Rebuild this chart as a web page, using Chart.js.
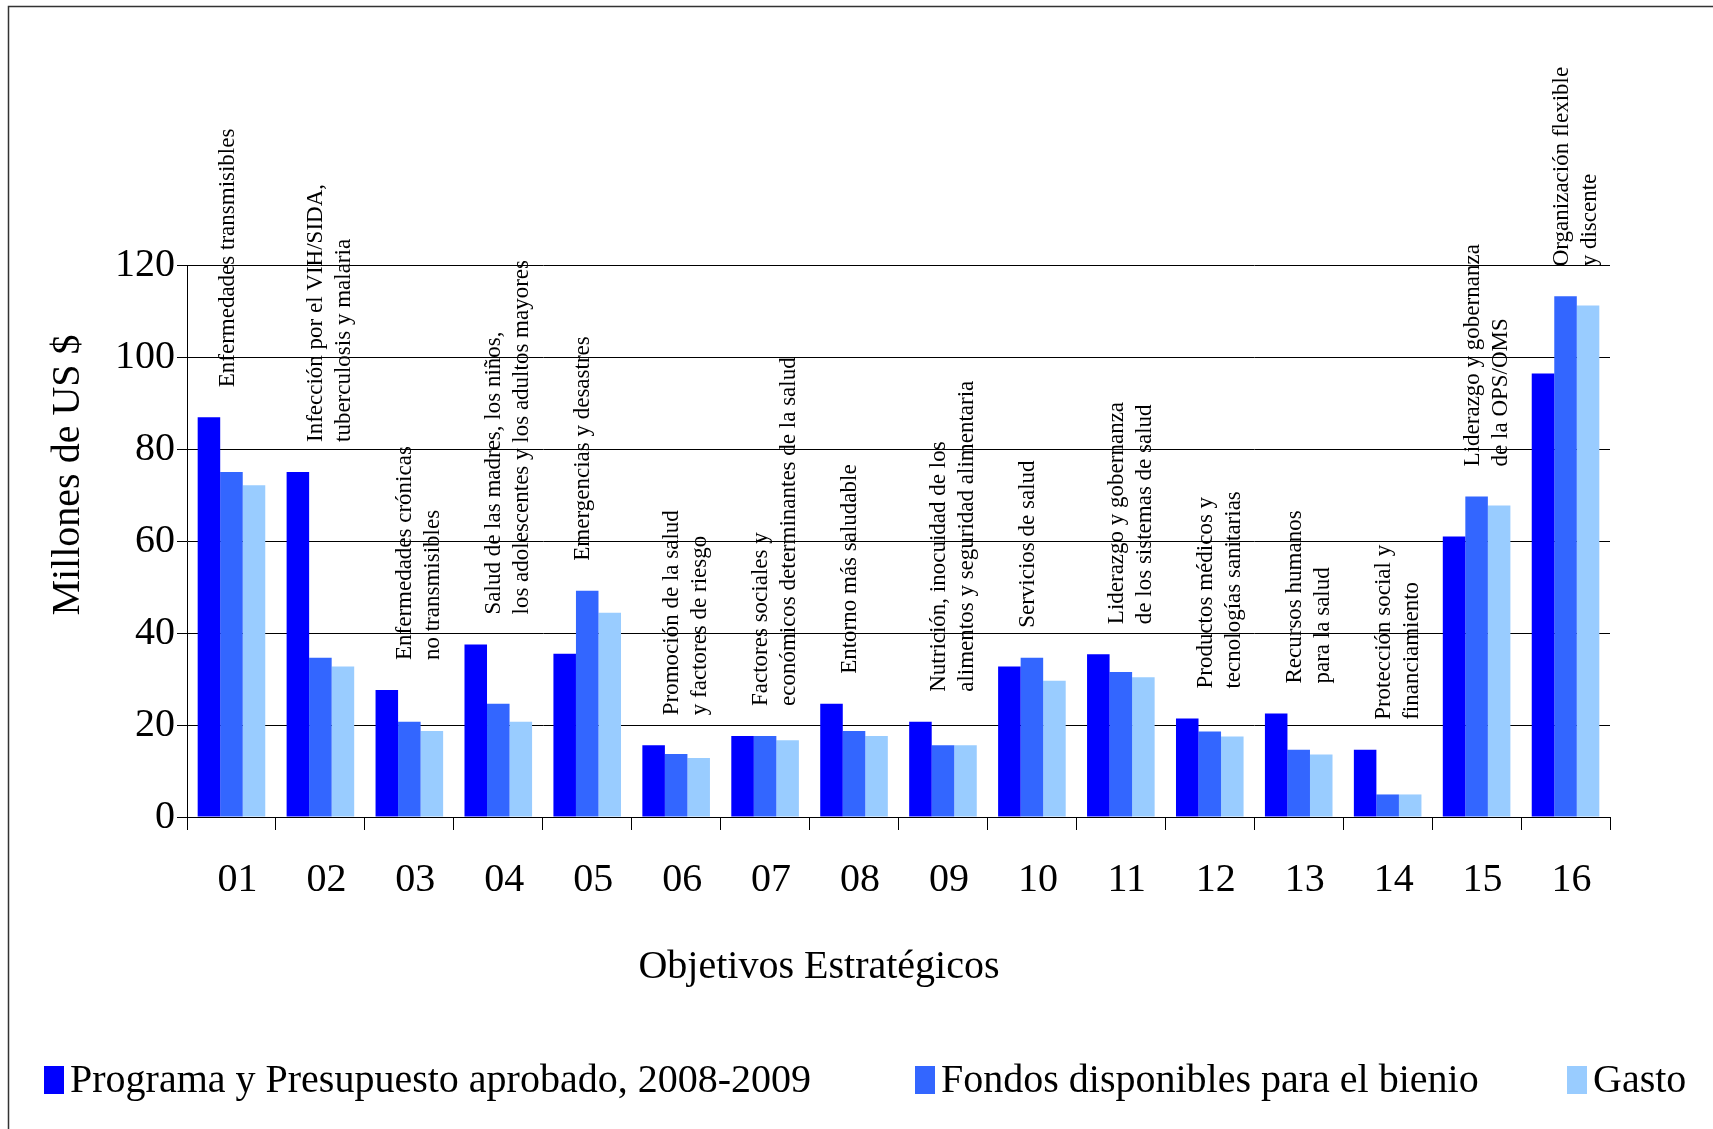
<!DOCTYPE html>
<html>
<head>
<meta charset="utf-8">
<script src="https://cdn.jsdelivr.net/npm/chart.js@4.4.1/dist/chart.umd.min.js"></script>
<style>
  html, body { margin: 0; padding: 0; background: #fff; }
  canvas { display: block; }
</style>
</head>
<body>
<canvas id="barChart" width="1713" height="1129"></canvas>
<script>
const codes = ['01', '02', '03', '04', '05', '06', '07', '08', '09', '10', '11', '12', '13', '14', '15', '16'];
const objectives = [
    ['Enfermedades transmisibles'],
    ['Infección por el VIH/SIDA,', 'tuberculosis y malaria'],
    ['Enfermedades crónicas', 'no transmisibles'],
    ['Salud de las madres, los niños,', 'los adolescentes y los adultos mayores'],
    ['Emergencias y desastres'],
    ['Promoción de la salud', 'y factores de riesgo'],
    ['Factores sociales y', 'económicos determinantes de la salud'],
    ['Entorno más saludable'],
    ['Nutrición, inocuidad de los', 'alimentos y seguridad alimentaria'],
    ['Servicios de salud'],
    ['Liderazgo y gobernanza', 'de los sistemas de salud'],
    ['Productos médicos y', 'tecnologías sanitarias'],
    ['Recursos humanos', 'para la salud'],
    ['Protección social y', 'financiamiento'],
    ['Liderazgo y gobernanza', 'de la OPS/OMS'],
    ['Organización flexible', 'y discente']
];
const programa = [86.9, 75.0, 27.6, 37.5, 35.5, 15.6, 17.6, 24.6, 20.7, 32.7, 35.4, 21.4, 22.5, 14.6, 61.0, 96.4];
const fondos = [75.0, 34.6, 20.7, 24.6, 49.2, 13.7, 17.6, 18.7, 15.6, 34.6, 31.5, 18.6, 14.6, 4.9, 69.7, 113.2];
const gasto = [72.1, 32.7, 18.7, 20.7, 44.4, 12.8, 16.7, 17.6, 15.6, 29.6, 30.4, 17.5, 13.6, 4.9, 67.7, 111.2];
const yMin = 0, yMax = 120, yStep = 20;

const serif = "'Liberation Serif', 'Times New Roman', serif";

// frame, rotated objective labels, axis titles and legend
const decorPlugin = {
    id: 'decor',
    beforeDraw(chart) {
        const ctx = chart.ctx;
        ctx.save();
        ctx.fillStyle = '#fff';
        ctx.fillRect(0, 0, chart.width, chart.height);
        ctx.strokeStyle = '#333';
        ctx.lineWidth = 1.5;
        ctx.strokeRect(8.5, 6.5, 2000, 2000);
        ctx.restore();
    },
    afterDraw(chart) {
        const ctx = chart.ctx;
        const xs = chart.scales.x;
        const ys = chart.scales.y;
        ctx.save();
        ctx.fillStyle = '#000';

        ctx.font = '23px ' + serif;
        ctx.textAlign = 'left';
        ctx.textBaseline = 'middle';
        objectives.forEach((lines, i) => {
            const top = Math.max(programa[i], fondos[i], gasto[i]);
            const x = xs.getPixelForValue(i) - 4;
            const y = ys.getPixelForValue(top) - 30;
            lines.forEach((line, j) => {
                ctx.save();
                ctx.translate(x + j * 28, y);
                ctx.rotate(-Math.PI / 2);
                ctx.fillText(line, 0, 0);
                ctx.restore();
            });
        });

        ctx.font = '40px ' + serif;
        ctx.save();
        ctx.translate(68, 475);
        ctx.rotate(-Math.PI / 2);
        ctx.textAlign = 'center';
        ctx.textBaseline = 'middle';
        ctx.fillText('Millones de US $', 0, 0);
        ctx.restore();

        ctx.textAlign = 'center';
        ctx.textBaseline = 'alphabetic';
        ctx.fillText('Objetivos Estratégicos', 819, 978);

        const starts = [44, 915, 1567];
        ctx.textAlign = 'left';
        chart.data.datasets.forEach((ds, k) => {
            ctx.fillStyle = ds.backgroundColor;
            ctx.fillRect(starts[k], 1066, 20, 28);
            ctx.fillStyle = '#000';
            ctx.fillText(ds.label, starts[k] + 26, 1092);
        });
        ctx.restore();
    }
};

const ctxBar = document.getElementById('barChart').getContext('2d');
const barChart = new Chart(ctxBar, {
    type: 'bar',
    data: {
        labels: codes,
        datasets: [{
            label: 'Programa y Presupuesto aprobado, 2008-2009',
            data: programa,
            backgroundColor: '#0000FF'
        }, {
            label: 'Fondos disponibles para el bienio',
            data: fondos,
            backgroundColor: '#3366FF'
        }, {
            label: 'Gasto',
            data: gasto,
            backgroundColor: '#99CCFF'
        }]
    },
    options: {
        responsive: false,
        animation: false,
        devicePixelRatio: 1,
        categoryPercentage: 0.76,
        barPercentage: 1.0,
        layout: {
            padding: { left: 0, top: 265, right: 103, bottom: 0 }
        },
        plugins: {
            legend: { display: false },
            tooltip: { enabled: false }
        },
        scales: {
            x: {
                afterFit: function(scale) { scale.height = 312; },
                grid: {
                    drawOnChartArea: false,
                    color: '#000',
                    tickLength: 13,
                    offset: true
                },
                border: { color: '#000', width: 1 },
                ticks: {
                    color: '#000',
                    padding: 26,
                    labelOffset: 6,
                    maxRotation: 0,
                    autoSkip: false,
                    font: { family: serif, size: 40 }
                }
            },
            y: {
                min: yMin,
                max: yMax,
                afterFit: function(scale) { scale.width = 187; },
                grid: {
                    color: '#000',
                    tickLength: 10
                },
                border: { color: '#000', width: 1 },
                ticks: {
                    stepSize: yStep,
                    color: '#000',
                    padding: 2,
                    font: { family: serif, size: 40 }
                }
            }
        }
    },
    plugins: [decorPlugin]
});
</script>
</body>
</html>
